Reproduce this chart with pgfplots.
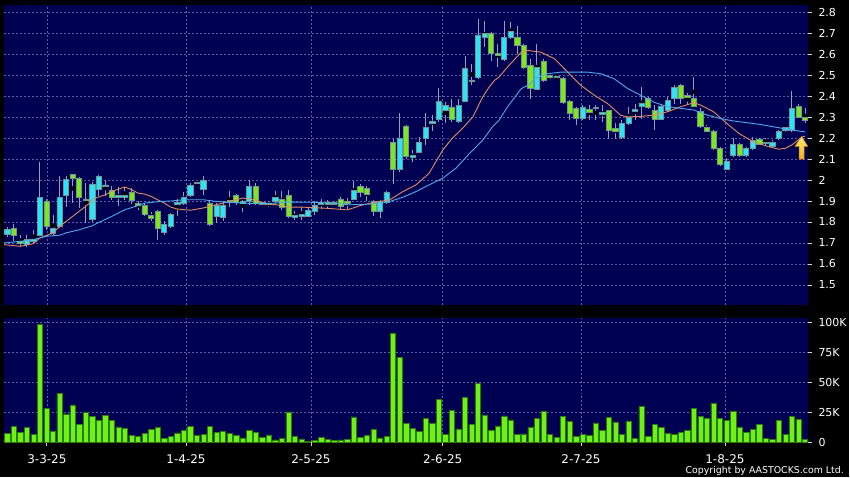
\documentclass[border=0pt]{standalone}
\usepackage{pgfplots}
\pgfplotsset{compat=1.18}
\usepackage{pgfplotstable}
\usepackage{fontspec}
\setmainfont{DejaVu Sans}
\definecolor{panel}{RGB}{0,0,82}
\definecolor{gridc}{RGB}{95,95,165}
\definecolor{upfill}{RGB}{45,228,245}
\definecolor{dnfill}{RGB}{125,232,25}
\definecolor{bodyedge}{RGB}{110,150,150}
\definecolor{wickc}{RGB}{150,160,175}
\definecolor{maor}{RGB}{228,140,90}
\definecolor{mabl}{RGB}{80,170,235}
\definecolor{volfill}{RGB}{110,242,20}
\definecolor{voledge}{RGB}{45,120,10}
\definecolor{arrowtop}{RGB}{255,235,120}
\definecolor{arrowbot}{RGB}{250,170,20}
\definecolor{arrowe}{RGB}{200,140,20}
\definecolor{tickc}{RGB}{210,210,210}

\pgfplotstableread{
i o h l c
1 1.740 1.775 1.730 1.765
2 1.770 1.792 1.708 1.737
3 1.708 1.740 1.684 1.700
4 1.692 1.740 1.680 1.716
5 1.710 1.760 1.700 1.716
6 1.737 2.084 1.732 1.919
7 1.898 1.910 1.763 1.779
8 1.748 1.835 1.732 1.771
9 1.779 2.020 1.771 1.919
10 1.927 2.018 1.871 2.002
11 2.025 2.030 1.890 2.009
12 2.009 2.017 1.867 1.917
13 1.910 1.985 1.795 1.903
14 1.811 1.989 1.798 1.981
15 1.954 2.025 1.922 2.017
16 1.970 2.000 1.922 1.973
17 1.951 1.973 1.906 1.919
18 1.919 1.965 1.878 1.927
19 1.919 1.967 1.906 1.927
20 1.943 1.962 1.887 1.902
21 1.889 1.898 1.859 1.878
22 1.881 1.890 1.827 1.838
23 1.832 1.850 1.803 1.819
24 1.851 1.859 1.716 1.771
25 1.751 1.803 1.740 1.790
26 1.779 1.845 1.770 1.838
27 1.882 1.910 1.830 1.895
28 1.891 1.941 1.882 1.917
29 1.927 1.985 1.920 1.973
30 1.983 1.993 1.979 1.990
31 1.954 2.020 1.930 2.000
32 1.890 1.898 1.782 1.790
33 1.827 1.890 1.795 1.879
34 1.820 1.898 1.803 1.879
35 1.895 1.946 1.870 1.900
36 1.927 1.935 1.882 1.894
37 1.890 1.906 1.850 1.898
38 1.900 1.998 1.882 1.970
39 1.970 1.985 1.882 1.890
40 1.885 1.895 1.878 1.888
41 1.884 1.900 1.870 1.887
42 1.898 1.946 1.890 1.919
43 1.906 1.946 1.859 1.871
44 1.927 1.954 1.819 1.827
45 1.820 1.851 1.808 1.830
46 1.827 1.870 1.811 1.838
47 1.827 1.867 1.822 1.854
48 1.851 1.898 1.835 1.879
49 1.885 1.910 1.860 1.888
50 1.887 1.905 1.865 1.885
51 1.885 1.898 1.875 1.889
52 1.910 1.920 1.862 1.875
53 1.898 1.914 1.860 1.891
54 1.910 1.994 1.906 1.950
55 1.970 1.981 1.917 1.941
56 1.962 1.970 1.898 1.930
57 1.900 1.906 1.830 1.851
58 1.851 1.906 1.819 1.899
59 1.895 1.946 1.886 1.943
60 2.178 2.198 1.982 2.051
61 2.051 2.320 2.040 2.198
62 2.258 2.262 2.099 2.111
63 2.108 2.143 2.088 2.119
64 2.130 2.206 2.127 2.179
65 2.198 2.320 2.167 2.250
66 2.270 2.310 2.235 2.278
67 2.289 2.440 2.278 2.377
68 2.333 2.372 2.270 2.357
69 2.349 2.388 2.278 2.289
70 2.281 2.388 2.270 2.357
71 2.377 2.594 2.372 2.531
72 2.470 2.555 2.452 2.472
73 2.488 2.768 2.483 2.692
74 2.681 2.760 2.634 2.700
75 2.700 2.705 2.570 2.602
76 2.602 2.650 2.540 2.597
77 2.578 2.760 2.570 2.681
78 2.681 2.752 2.673 2.709
79 2.681 2.736 2.600 2.641
80 2.641 2.650 2.530 2.539
81 2.547 2.578 2.388 2.436
82 2.431 2.650 2.428 2.539
83 2.567 2.578 2.467 2.475
84 2.499 2.510 2.480 2.491
85 2.497 2.500 2.480 2.490
86 2.486 2.490 2.365 2.372
87 2.377 2.380 2.285 2.317
88 2.341 2.350 2.262 2.293
89 2.293 2.357 2.285 2.349
90 2.338 2.357 2.285 2.325
91 2.340 2.357 2.285 2.341
92 2.314 2.357 2.278 2.322
93 2.333 2.335 2.198 2.238
94 2.246 2.270 2.198 2.230
95 2.206 2.285 2.198 2.270
96 2.270 2.350 2.262 2.301
97 2.330 2.365 2.285 2.335
98 2.351 2.444 2.293 2.368
99 2.388 2.396 2.341 2.349
100 2.333 2.357 2.238 2.289
101 2.290 2.358 2.285 2.350
102 2.334 2.397 2.326 2.381
103 2.389 2.452 2.365 2.441
104 2.452 2.460 2.365 2.389
105 2.399 2.413 2.357 2.395
106 2.389 2.492 2.350 2.353
107 2.326 2.342 2.247 2.255
108 2.252 2.263 2.230 2.234
109 2.234 2.240 2.144 2.152
110 2.152 2.160 2.065 2.073
111 2.052 2.105 2.050 2.089
112 2.120 2.200 2.112 2.168
113 2.168 2.176 2.112 2.120
114 2.120 2.160 2.112 2.152
115 2.152 2.207 2.144 2.191
116 2.196 2.200 2.168 2.172
117 2.178 2.200 2.168 2.174
118 2.160 2.190 2.157 2.179
119 2.200 2.240 2.190 2.234
120 2.236 2.255 2.230 2.250
121 2.236 2.426 2.230 2.342
122 2.350 2.362 2.294 2.299
123 2.299 2.342 2.270 2.283
}\candles

\pgfplotstableread{
i v
1 7.8
2 13.3
3 8.6
4 12.8
5 6.9
6 98.6
7 28.6
8 9.7
9 41.1
10 23.9
11 31.4
12 15.3
13 25
14 21.7
15 18.3
16 22.8
17 18.3
18 13
19 11.9
20 5.8
21 5.3
22 7.5
23 11.1
24 12.8
25 3.6
26 5
27 8
28 10
29 13.6
30 5.6
31 6.9
32 13.3
33 8.3
34 9.2
35 7.8
36 5.6
37 3.9
38 10.3
39 8.6
40 4.4
41 6.4
42 2.2
43 3.6
44 25.6
45 5
46 3
47 1.1
48 1.7
49 4.2
50 2.8
51 1.9
52 2.2
53 2.8
54 21.4
55 4.4
56 5.6
57 10.8
58 3.9
59 5.3
60 91.1
61 70.8
62 16.1
63 11.9
64 9.4
65 20
66 16.1
67 36.1
68 6.9
69 26.9
70 11.4
71 37.8
72 15
73 49.4
74 23.1
75 10.3
76 13.9
77 22.2
78 18.9
79 6.7
80 7.2
81 12.8
82 20
83 26.1
84 6.9
85 4.4
86 21.7
87 17.8
88 5.3
89 6.9
90 5.6
91 16.4
92 10.3
93 21.1
94 17.2
95 6.9
96 18.1
97 3.3
98 30
99 5
100 15
101 12.8
102 7.5
103 6.7
104 8.6
105 10
106 28.3
107 21.7
108 20
109 32.8
110 20
111 18.6
112 25.8
113 12.8
114 8.6
115 11.1
116 15
117 3.6
118 2.8
119 18.3
120 6.7
121 21.7
122 19.4
123 2.8
}\volume

\pgfplotsset{
  chartbase/.style={
    scale only axis, width=805pt, xmin=0.5, xmax=123.45,
    axis background/.style={fill=panel},
    axis line style={draw=none},
    xtick={7.06,28.34,47.44,67.6,88.74,110.75},
    grid=major,
    major grid style={gridc, dash pattern=on 2pt off 2pt, line width=0.6pt},
    tick align=outside, major tick length=4pt,
    tick style={tickc, line width=0.8pt},
    ytick pos=right, yticklabel pos=right,
    yticklabel style={text=white, font=\fontsize{11}{13}\selectfont, anchor=west, xshift=3pt},
    /pgf/number format/assume math mode=true,
  },
  overlay/.style={scale only axis, width=805pt, height=300pt, at={(4pt,173pt)},
    anchor=south west, xmin=0.5, xmax=123.45, ymin=1.406, ymax=2.835, hide axis},
}

\begin{document}
\begin{tikzpicture}
\fill[black] (0pt,0pt) rectangle (850pt,478pt);

% price panel: background, grid, ticks, wicks
\begin{axis}[chartbase, at={(4pt,173pt)}, anchor=south west, height=300pt,
  ymin=1.406, ymax=2.835,
  ytick={1.5,1.6,1.7,1.8,1.9,2.0,2.1,2.2,2.3,2.4,2.5,2.6,2.7,2.8},
  yticklabels={1.5,1.6,1.7,1.8,1.9,2,2.1,2.2,2.3,2.4,2.5,2.6,2.7,2.8},
  xticklabels={}, x tick style={draw=none}]
\addplot[only marks, mark=none, forget plot,
  error bars/.cd, y dir=both, y explicit, error mark=none,
  error bar style={draw=wickc, line width=1pt}]
  table[x=i, y expr={(\thisrow{h}+\thisrow{l})/2}, y error expr={(\thisrow{h}-\thisrow{l})/2}] {\candles};
\end{axis}

% candle bodies
\begin{axis}[overlay, ybar stacked, bar width=5.2pt]
\addplot[draw=none, fill=none] table[x=i, y expr={min(\thisrow{o},\thisrow{c})}] {\candles};
\addplot[fill=upfill, draw=bodyedge, line width=0.7pt]
  table[x=i, y expr={\thisrow{c}>=\thisrow{o} ? max(\thisrow{c}-\thisrow{o},0.007) : 0}] {\candles};
\addplot[fill=dnfill, draw=bodyedge, line width=0.7pt]
  table[x=i, y expr={\thisrow{c}<\thisrow{o} ? max(\thisrow{o}-\thisrow{c},0.007) : 0}] {\candles};
\end{axis}

% moving averages and arrow
\begin{axis}[overlay]
\addplot[maor, line width=0.9pt] coordinates {
(0.5,1.692) (3,1.684) (5,1.697) (6,1.724) (8,1.748) (9,1.779) (11,1.827) (13,1.875)
(14.5,1.914) (16,1.930) (17,1.946) (19,1.967) (20,1.954) (21,1.938) (22,1.933) (23,1.922)
(25,1.890) (26,1.871) (27,1.862) (29,1.856) (31,1.867) (33,1.883) (35,1.898) (37,1.914)
(38,1.911) (39,1.903) (40.5,1.887) (42,1.883) (44,1.871) (46,1.871) (48,1.868) (50,1.865)
(53,1.858) (55.4,1.882) (57.4,1.895) (59.5,1.906) (61.5,1.945) (63.5,1.977) (65.5,2.032)
(67.6,2.143) (69,2.198) (70.6,2.246) (72.2,2.301) (73.7,2.396) (74.7,2.444) (75.5,2.475)
(76.2,2.491) (77.5,2.539) (79.6,2.610) (80.6,2.618) (82.6,2.610) (84.7,2.578) (86.7,2.515)
(88.7,2.452) (90.8,2.404) (92.8,2.365) (94.8,2.309) (95.9,2.301) (97.9,2.304) (100,2.310)
(102,2.326) (104,2.350) (106,2.369) (107,2.358) (109,2.326) (111,2.271) (113,2.220)
(115,2.184) (117,2.163) (119,2.147) (120,2.152) (121,2.168) (122.5,2.204) (123,2.210)};
\addplot[mabl, line width=0.9pt] coordinates {
(0.5,1.700) (3,1.708) (5,1.716) (7,1.732) (9,1.737) (10,1.748) (12,1.763) (14,1.782)
(15,1.798) (17,1.827) (19,1.859) (21,1.878) (22,1.890) (24.4,1.898) (26,1.900) (28,1.906)
(31,1.906) (33,1.898) (35,1.894) (37,1.890) (40,1.887) (42,1.890) (44,1.895) (47.5,1.894)
(50.6,1.890) (53.3,1.882) (56.4,1.885) (59.5,1.898) (61.5,1.918) (63.5,1.945) (65.5,1.977)
(67.6,2.009) (69.6,2.056) (71.7,2.127) (73.7,2.190) (75.2,2.254) (76.2,2.285) (77.5,2.349)
(79.6,2.436) (80.8,2.455) (81.6,2.483) (83.6,2.507) (85.7,2.515) (87.7,2.515) (89.7,2.515)
(91.8,2.507) (93.8,2.483) (95.9,2.436) (97.9,2.404) (100,2.370) (102,2.350) (104,2.342)
(106,2.334) (108,2.310) (110,2.294) (112,2.282) (114,2.274) (116,2.266) (118,2.255)
(120,2.244) (122,2.234) (123,2.230)};
\addplot[top color=arrowtop, bottom color=arrowbot, draw=arrowe, line width=0.5pt] coordinates {
(121.46,2.161) (122.48,2.208) (123.40,2.161) (122.85,2.161) (122.85,2.100) (122.10,2.100) (122.10,2.161)} -- cycle;
\end{axis}

% volume panel
\begin{axis}[chartbase, at={(4pt,35pt)}, anchor=south west, height=125pt,
  ymin=0, ymax=104.2, ytick={0,25,50,75,100}, yticklabels={0,25K,50K,75K,100K},
  xtick pos=left, xticklabels={3-3-25,1-4-25,2-5-25,2-6-25,2-7-25,1-8-25},
  xticklabel style={text=white, font=\fontsize{12}{14}\selectfont, yshift=-4.5pt}]
\addplot[ybar, bar width=5.3pt, fill=volfill, draw=voledge, line width=0.5pt]
  table[x=i, y=v] {\volume};
\end{axis}

\node[anchor=base east, text=white, font=\fontsize{9.4}{11}\selectfont, inner sep=0pt]
  at (845pt,4.3pt) {Copyright by AASTOCKS.com Ltd.};
\end{tikzpicture}
\end{document}
